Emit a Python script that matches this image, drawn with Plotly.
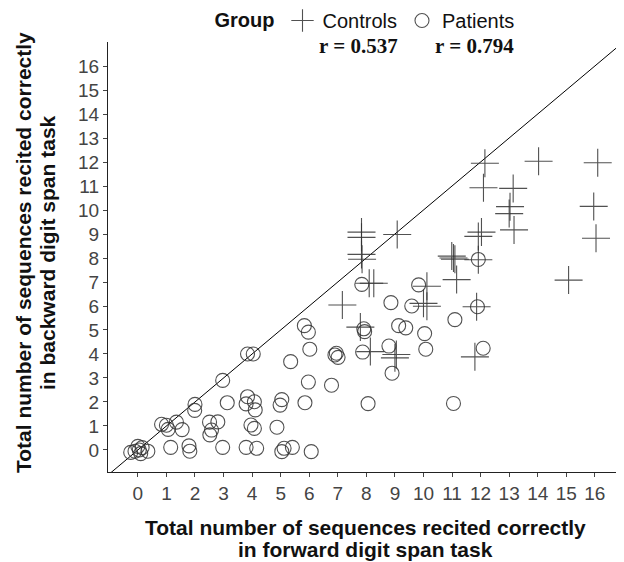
import plotly.graph_objects as go

# Controls (forward, backward)
controls_x = [12.15, 14.03, 16.10, 12.10, 13.14, 13.03, 13.00, 13.17, 15.96, 16.04, 15.08,
              12.03, 11.92, 10.99, 11.05, 11.10, 11.92, 11.16, 10.12, 10.00, 10.12, 11.86,
              11.80, 9.05, 9.00, 8.14, 7.79, 7.16, 8.10, 8.26, 9.08, 7.83, 7.83, 7.83, 7.85]
controls_y = [11.95, 12.03, 11.97, 10.93, 10.90, 10.14, 9.85, 9.17, 10.15, 8.82, 7.08,
              9.08, 8.90, 8.08, 8.00, 7.95, 7.93, 7.10, 6.82, 6.11, 5.99, 5.97,
              3.88, 3.98, 3.84, 4.10, 5.12, 6.04, 6.95, 6.95, 8.98, 9.08, 8.86, 8.15, 7.95]

# Patients (forward, backward)
patients_x = [-0.25, 0.00, 0.15, 0.10, 0.35, -0.10, 0.05,
              0.83, 1.00, 1.06, 1.35, 1.55, 1.15, 1.79, 1.82, 2.00, 1.99,
              2.51, 2.80, 2.58, 2.52, 2.97, 3.13, 2.97, 3.84, 4.04,
              3.84, 4.08, 4.11, 3.79, 3.96, 4.08, 3.79, 4.16, 4.87, 5.04, 4.98,
              5.35, 5.04, 5.12, 5.41, 6.07, 5.85, 5.83, 5.97, 6.02, 5.97,
              6.95, 7.01, 6.90, 6.78, 7.87, 7.91, 7.94, 8.06, 7.84,
              9.83, 8.86, 9.59, 11.10, 9.13, 9.38, 10.04, 8.79, 10.08, 8.90,
              11.05, 11.92, 11.89, 12.09]
patients_y = [-0.10, 0.15, 0.10, -0.15, -0.05, -0.05, 0.00,
              1.07, 1.03, 0.86, 1.16, 0.85, 0.11, 0.17, -0.05, 1.90, 1.65,
              1.16, 1.17, 0.83, 0.63, 0.11, 1.97, 2.90, 4.00, 4.00,
              2.22, 2.01, 1.67, 1.92, 1.04, 0.90, 0.11, 0.07, 0.95, 2.10, 1.87,
              3.68, -0.07, 0.07, 0.11, -0.07, 1.97, 5.18, 4.91, 4.20, 2.83,
              4.03, 3.86, 3.96, 2.70, 4.08, 5.05, 4.93, 1.93, 6.90,
              6.88, 6.14, 6.00, 5.43, 5.18, 5.09, 4.85, 4.33, 4.20, 3.20,
              1.94, 7.94, 5.97, 4.24]

identity_line = [-2, 18]
tick_vals = list(range(0, 17))
r_labels = ["r = 0.537", "r = 0.794"]
x_title_lines = ["Total number of sequences recited correctly", "in forward digit span task"]
y_title_lines = ["Total number of sequences recited correctly", "in backward digit span task"]

mark_col = "rgba(50,50,50,0.85)"
sans = "Liberation Sans, Arial"

# figure geometry (page body adds an 8px offset)
W, H = 616, 554
L, R, T, B = 100, 2, 34, 90
PW, PH = W - L - R, H - T - B


def px(xp):
    return (xp - 8 - L) / PW


def py(yp):
    return (H - B - (yp - 8)) / PH


fig = go.Figure()
fig.add_trace(go.Scatter(x=identity_line, y=identity_line, mode="lines",
                         line=dict(color="black", width=1), showlegend=False,
                         hoverinfo="skip"))
fig.add_trace(go.Scatter(x=controls_x, y=controls_y, mode="markers", name="Controls",
                         marker=dict(symbol="cross-thin", size=20, color=mark_col,
                                     line=dict(color=mark_col, width=1.1))))
fig.add_trace(go.Scatter(x=patients_x, y=patients_y, mode="markers", name="Patients",
                         marker=dict(symbol="circle-open", size=14, color=mark_col,
                                     line=dict(color=mark_col, width=1.1))))

axis_common = dict(showgrid=False, zeroline=False, showline=True, linecolor="#222",
                   linewidth=1.2, ticks="outside", ticklen=4, tickcolor="#444",
                   tickmode="array", tickvals=tick_vals, automargin=False,
                   tickfont=dict(family=sans, size=19, color="#444"))

fig.update_layout(
    width=W, height=H,
    margin=dict(l=L, r=R, t=T, b=B, autoexpand=False),
    plot_bgcolor="white", paper_bgcolor="white",
    xaxis=dict(range=[-1.045, 16.95], **axis_common),
    yaxis=dict(range=[-0.917, 17.0], **axis_common),
    legend=dict(orientation="h", x=px(366), xanchor="center", y=py(1), yanchor="top",
                title=dict(text="<b>Group</b>", font=dict(family=sans, size=20, color="#111")),
                font=dict(family=sans, size=20, color="#111"),
                itemwidth=30, bgcolor="rgba(0,0,0,0)"),
)

for xc, label in zip([358, 474], r_labels):
    fig.add_annotation(x=px(xc), y=py(46), xref="paper", yref="paper", text=f"<b>{label}</b>",
                       showarrow=False, xanchor="center", yanchor="middle",
                       font=dict(family="Liberation Serif, Times New Roman", size=21, color="#111"))

for yc, line in zip([527, 549], x_title_lines):
    fig.add_annotation(x=px(365), y=py(yc), xref="paper", yref="paper", text=f"<b>{line}</b>",
                       showarrow=False, xanchor="center", yanchor="middle",
                       font=dict(family=sans, size=21, color="#111"))

for xc, line in zip([23, 47], y_title_lines):
    fig.add_annotation(x=px(xc), y=py(253), xref="paper", yref="paper",
                       text=f"<b>{line}</b>", textangle=-90,
                       showarrow=False, xanchor="center", yanchor="middle",
                       font=dict(family=sans, size=21, color="#111"))

fig.write_html("out.html")
